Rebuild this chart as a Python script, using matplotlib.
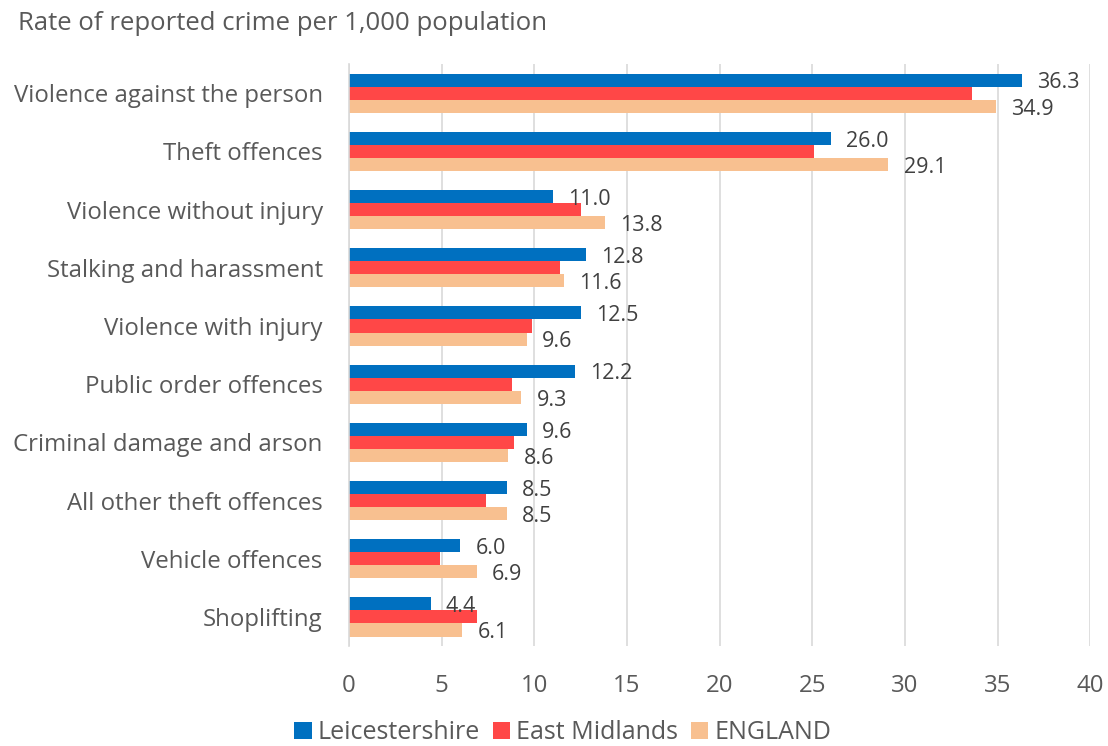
import matplotlib.pyplot as plt
import numpy as np

plt.rcParams['font.family'] = ['Open Sans', 'DejaVu Sans']

categories = ['Violence against the person', 'Theft offences', 'Violence without injury',
              'Stalking and harassment', 'Violence with injury', 'Public order offences',
              'Criminal damage and arson', 'All other theft offences', 'Vehicle offences',
              'Shoplifting']
leics = [36.3, 26.0, 11.0, 12.8, 12.5, 12.2, 9.6, 8.5, 6.0, 4.4]
east_mid = [33.6, 25.1, 12.5, 11.4, 9.9, 8.8, 8.9, 7.4, 4.9, 6.9]
england = [34.9, 29.1, 13.8, 11.6, 9.6, 9.3, 8.6, 8.5, 6.9, 6.1]

text_col = '#595959'
fig = plt.figure(figsize=(11.08, 7.46), dpi=100)
ax = fig.add_axes([0.315, 0.134, 0.669, 0.780])

y = np.arange(len(categories))
h = 0.225
b1 = ax.barh(y - h, leics, height=h, color='#0070C0', label='Leicestershire', zorder=2)
b2 = ax.barh(y, east_mid, height=h, color='#FF4747', label='East Midlands', zorder=2)
b3 = ax.barh(y + h, england, height=h, color='#F8C090', label='ENGLAND', zorder=2)

# labels only for Leicestershire and England, like the original
for bars in (b1, b3):
    for bar in bars:
        ax.annotate(f'{bar.get_width():.1f}', (bar.get_width(), bar.get_y() + bar.get_height() / 2),
                    xytext=(11, -2), textcoords='offset points', va='center', ha='left',
                    fontsize=15.5, color='#404040', zorder=3)

ax.set_xlim(0, 40)
ax.set_ylim(len(categories) - 0.5, -0.5)
ax.set_xticks(range(0, 41, 5))
ax.set_yticks(y)
ax.set_yticklabels(categories, fontsize=17.6)
ax.tick_params(axis='both', length=0, labelsize=17.3, labelcolor=text_col)
ax.tick_params(axis='x', pad=20)
ax.tick_params(axis='y', pad=19)
ax.grid(axis='x', color='#D9D9D9', linewidth=1.2, zorder=0)
for s in ['top', 'right', 'bottom']:
    ax.spines[s].set_visible(False)
ax.spines['left'].set_color('#D9D9D9')
ax.spines['left'].set_linewidth(1.2)

fig.text(0.016, 0.968, 'Rate of reported crime per 1,000 population', fontsize=18.5,
         color=text_col, ha='left', va='center')

leg = fig.legend(handles=[b1, b2, b3], loc='center', bbox_to_anchor=(0.508, 0.018),
                 ncol=3, frameon=False, fontsize=18, handlelength=0.7, handleheight=0.7,
                 handletextpad=0.25, columnspacing=0.5)
for t in leg.get_texts():
    t.set_color(text_col)

fig.savefig('out.png', dpi=100)
